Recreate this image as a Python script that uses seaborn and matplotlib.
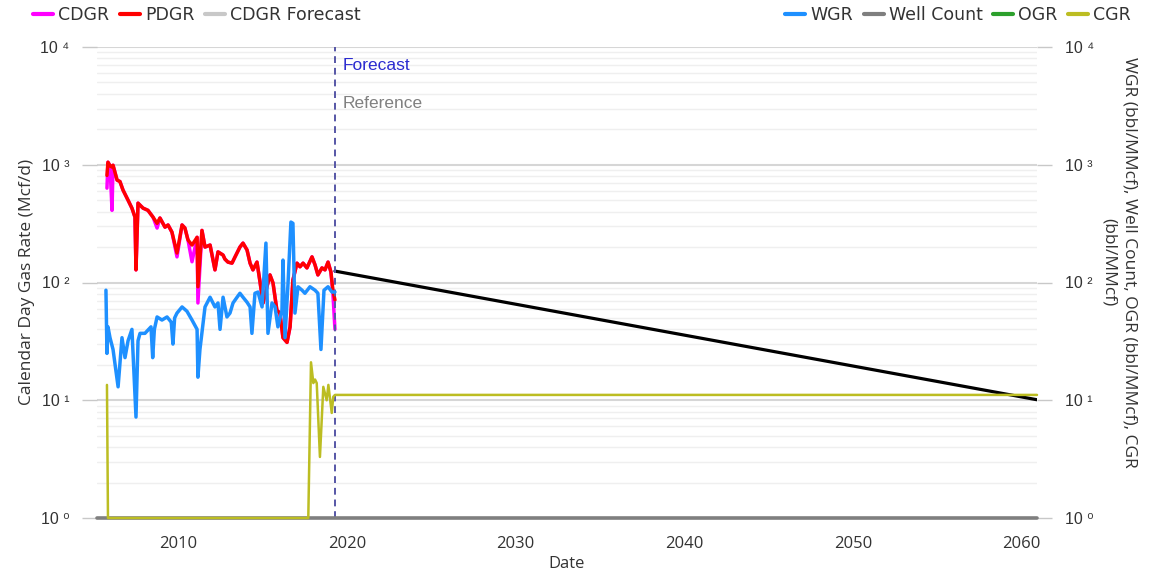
import matplotlib
matplotlib.use("Agg")
import matplotlib.pyplot as plt
import matplotlib.transforms as mtransforms
from matplotlib.lines import Line2D
from matplotlib.ticker import FixedLocator, FuncFormatter, NullFormatter, LogLocator
import numpy as np
import pandas as pd
import seaborn as sns

# ---------------- history (decimal year, rate) ----------------
gas_year = [2005.79, 2005.85, 2005.97, 2006.09, 2006.15, 2006.39, 2006.56, 2006.74,
            2007.04, 2007.27, 2007.45, 2007.51, 2007.63, 2007.93, 2008.22, 2008.52,
            2008.76, 2008.93, 2009.23, 2009.41, 2009.64, 2009.94, 2010.24, 2010.41,
            2010.59, 2010.83, 2011.13, 2011.18, 2011.42, 2011.60, 2011.90, 2012.19,
            2012.37, 2012.67, 2012.78, 2012.96, 2013.20, 2013.38, 2013.67, 2013.85,
            2014.09, 2014.27, 2014.44, 2014.68, 2014.86, 2015.04, 2015.27, 2015.45,
            2015.63, 2015.86, 2016.04, 2016.22, 2016.46, 2016.64, 2016.81, 2017.05,
            2017.23, 2017.41, 2017.64, 2017.94, 2018.12, 2018.29, 2018.53, 2018.71,
            2018.89, 2019.06, 2019.18, 2019.30]

pdgr = [812, 1051, 980, 955, 990, 741, 720, 610,
        500, 428, 359, 128, 472, 428, 410, 359,
        318, 353, 295, 308, 268, 178, 308, 290,
        230, 208, 242, 92, 277, 200, 208, 128,
        182, 171, 158, 149, 146, 165, 200, 216,
        189, 146, 128, 149, 101, 67, 92, 116,
        99, 58, 55, 34, 31, 42, 105, 146,
        136, 146, 133, 165, 141, 116, 133, 128,
        149, 123, 86, 71]

cdgr = [633, 1051, 980, 410, 990, 741, 720, 610,
        500, 428, 359, 128, 472, 428, 410, 359,
        290, 353, 295, 308, 268, 165, 308, 290,
        230, 150, 242, 67, 277, 200, 208, 128,
        182, 171, 158, 149, 146, 165, 200, 216,
        189, 146, 128, 149, 101, 67, 92, 116,
        99, 58, 55, 34, 31, 42, 105, 146,
        136, 146, 133, 165, 141, 116, 133, 128,
        149, 123, 80, 40]

wgr_year = [2005.73, 2005.79, 2005.85, 2005.97, 2006.15, 2006.45, 2006.68, 2006.86,
            2007.04, 2007.27, 2007.51, 2007.63, 2007.75, 2008.04, 2008.40, 2008.50,
            2008.60, 2008.76, 2009.05, 2009.35, 2009.60, 2009.70, 2009.80, 2009.94,
            2010.24, 2010.53, 2010.83, 2011.13, 2011.18, 2011.30, 2011.60, 2011.90,
            2012.19, 2012.37, 2012.49, 2012.67, 2012.90, 2013.08, 2013.26, 2013.50,
            2013.67, 2013.85, 2014.09, 2014.27, 2014.38, 2014.56, 2014.74, 2014.98,
            2015.21, 2015.33, 2015.57, 2015.75, 2015.92, 2016.16, 2016.22, 2016.34,
            2016.52, 2016.69, 2016.81, 2016.93, 2017.11, 2017.35, 2017.52, 2017.82,
            2018.12, 2018.29, 2018.47, 2018.65, 2018.89, 2019.12, 2019.30]

wgr = [86, 25, 42, 34, 27, 13, 34, 23,
       32, 40, 7.2, 32, 37, 37, 42, 23,
       40, 51, 48, 51, 46, 30, 50, 55,
       62, 57, 48, 40, 15.7, 27, 62, 75,
       62, 67, 40, 75, 51, 55, 67, 75,
       81, 75, 68, 62, 37, 81, 83, 62,
       216, 37, 67, 62, 42, 58, 155, 34,
       99, 326, 318, 55, 92, 86, 81, 92,
       86, 81, 27, 86, 92, 83, 83]

cgr_year = [2005.79, 2005.85, 2017.72, 2017.88, 2018.02, 2018.12, 2018.22, 2018.41,
            2018.61, 2018.81, 2018.91, 2019.11, 2019.20, 2019.30]
cgr = [13.5, 1, 1, 21, 14, 15, 14, 3.3,
       13, 10, 13.5, 7.8, 10.7, 11.1]

# ---------------- forecast ----------------
forecast_date = 2019.3
cdgr_fc_year = [2019.3, 2060.9]
cdgr_fc = [125, 10.1]
cgr_fc_year = [2019.3, 2060.9]
cgr_fc = [11.1, 11.1]
well_year = [2005.2, 2060.9]
well_count = [1, 1]

x_ticks = [2010, 2020, 2030, 2040, 2050, 2060]

# ---------------- style ----------------
sns.set_style("white")
plt.rcParams["font.family"] = ["DejaVu Sans"]

C_CDGR = "#ff00ff"
C_PDGR = "#ff0000"
C_FC_LEG = "#c8c8c8"
C_WGR = "#1e90ff"
C_WELL = "#7f7f7f"
C_OGR = "#2ca02c"
C_CGR = "#bcbd22"

W, H = 1159, 580
fig = plt.figure(figsize=(W / 100, H / 100), dpi=100)
ax = fig.add_axes([97 / W, 1 - 518 / H, 940 / W, 471 / H])

hist = pd.DataFrame({"year": gas_year, "PDGR": pdgr, "CDGR": cdgr})
sns.lineplot(data=hist, x="year", y="CDGR", ax=ax, color=C_CDGR, lw=2.5,
             estimator=None, sort=False, legend=False)
sns.lineplot(data=hist, x="year", y="PDGR", ax=ax, color=C_PDGR, lw=2.5,
             estimator=None, sort=False, legend=False)
fc = pd.DataFrame({"year": cdgr_fc_year, "rate": cdgr_fc})
sns.lineplot(data=fc, x="year", y="rate", ax=ax, color="black", lw=2.3,
             estimator=None, sort=False, legend=False)

ax.set_yscale("log")
ax.set_ylim(1, 1e4)
ax.set_xlim(2005.2, 2060.9)

# right-hand axis: ratios and well count
ax2 = ax.twinx()
ratios = pd.DataFrame({"year": wgr_year, "WGR": wgr})
sns.lineplot(data=ratios, x="year", y="WGR", ax=ax2, color=C_WGR, lw=2.5,
             estimator=None, sort=False, legend=False)
wells = pd.DataFrame({"year": well_year, "n": well_count})
sns.lineplot(data=wells, x="year", y="n", ax=ax2, color=C_WELL, lw=2.6,
             estimator=None, sort=False, legend=False)
cg = pd.DataFrame({"year": cgr_year + cgr_fc_year, "CGR": cgr + cgr_fc})
sns.lineplot(data=cg, x="year", y="CGR", ax=ax2, color=C_CGR, lw=1.8,
             estimator=None, sort=False, legend=False)
for ln in ax2.get_lines():
    ln.set_clip_on(False)
ax2.set_yscale("log")
ax2.set_ylim(1, 1e4)
ax2.set_xlim(2005.2, 2060.9)

# forecast marker
ax.axvline(forecast_date, color="#5656a6", lw=1.4, ls=(0, (3.5, 2.5)))
trans = mtransforms.blended_transform_factory(ax.transData, ax.transAxes)
ax.text(forecast_date + 0.45, 0.96, "Forecast", transform=trans, color="#2b2bd0",
        fontsize=12.5, va="center", ha="left", family=["Liberation Sans"])
ax.text(forecast_date + 0.45, 0.881, "Reference", transform=trans, color="#808080",
        fontsize=12.5, va="center", ha="left", family=["Liberation Sans"])

# grid
ax.grid(False)
ax2.grid(False)
ax.yaxis.set_major_locator(FixedLocator([1, 10, 100, 1000, 10000]))
ax.yaxis.set_minor_locator(LogLocator(base=10, subs=np.arange(2, 10), numticks=20))
ax.grid(which="major", axis="y", color="#d6d6d6", lw=1.5)
ax.grid(which="minor", axis="y", color="#efefef", lw=1.0)
ax.set_axisbelow(True)

sup = {0: "\u2070", 1: "\u00b9", 2: "\u00b2", 3: "\u00b3", 4: "\u2074"}


def dec_fmt(v, _pos):
    return "10 " + sup[int(round(np.log10(v)))]


for a in (ax, ax2):
    a.yaxis.set_major_locator(FixedLocator([1, 10, 100, 1000, 10000]))
    a.yaxis.set_major_formatter(FuncFormatter(dec_fmt))
    a.yaxis.set_minor_formatter(NullFormatter())
    a.tick_params(axis="y", which="major", length=11, width=1, color="#c8c8c8",
                  pad=9, labelsize=11.5, labelcolor="#333333")
    a.tick_params(axis="y", which="minor", length=0)
    for s in a.spines.values():
        s.set_visible(False)
    a.set_xlabel("")
    a.set_ylabel("")
for lab in ax.get_yticklabels() + ax2.get_yticklabels():
    lab.set_family(["Liberation Sans", "DejaVu Sans"])
ax2.yaxis.set_minor_locator(LogLocator(base=10, subs=np.arange(2, 10), numticks=20))

ax.xaxis.set_major_locator(FixedLocator(x_ticks))
ax.xaxis.set_major_formatter(FuncFormatter(lambda v, p: f"{int(v)}"))
ax.tick_params(axis="x", which="major", length=10, width=1, color="#c8c8c8",
               pad=3, labelsize=12, labelcolor="#333333")
for lab in ax.get_xticklabels():
    lab.set_family(["Open Sans"])

ax.set_xlabel("Date", fontsize=12, family=["Open Sans"], color="#333333", labelpad=3)
fig.text(27 / W, 1 - 282 / H, "Calendar Day Gas Rate (Mcf/d)", rotation=90,
         ha="center", va="center", fontsize=12.5, family=["Open Sans"], color="#333333")
fig.text(1119 / W, 1 - 262 / H, "WGR (bbl/MMcf), Well Count, OGR (bbl/MMcf), CGR\n(bbl/MMcf)",
         rotation=270, ha="center", va="center", multialignment="center",
         fontsize=12.5, family=["Open Sans"], color="#333333", linespacing=1.45)

# legends
def handles(colors):
    return [Line2D([0], [0], color=c, lw=3) for c in colors]


leg_kw = dict(frameon=False, fontsize=12.5, handlelength=1.15, handletextpad=0.3,
              columnspacing=0.6, borderpad=0, borderaxespad=0)
l1 = fig.legend(handles([C_CDGR, C_PDGR, C_FC_LEG]), ["CDGR", "PDGR", "CDGR Forecast"],
                loc="center left", bbox_to_anchor=(33 / W, 1 - 15 / H), ncol=3, **leg_kw)
l2 = fig.legend(handles([C_WGR, C_WELL, C_OGR, C_CGR]), ["WGR", "Well Count", "OGR", "CGR"],
                loc="center right", bbox_to_anchor=(1131 / W, 1 - 15 / H), ncol=4, **leg_kw)
for lg in (l1, l2):
    for t in lg.get_texts():
        t.set_color("#333333")

fig.savefig("out.png", dpi=100)
